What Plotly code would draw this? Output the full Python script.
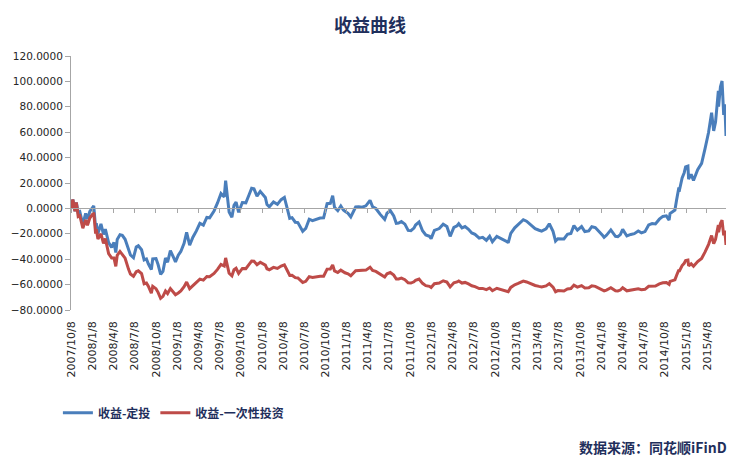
import plotly.graph_objects as go

# ---- data ----
dates = [
    "2007-10-08", "2007-10-16", "2007-10-25", "2007-10-31", "2007-11-08", "2007-11-15", "2007-11-28",
    "2007-12-10", "2007-12-18", "2007-12-28",
    "2008-01-14", "2008-01-22", "2008-01-25", "2008-02-01", "2008-02-14", "2008-02-25", "2008-03-04",
    "2008-03-18", "2008-03-31", "2008-04-10", "2008-04-18", "2008-04-24", "2008-05-06", "2008-05-16",
    "2008-05-28", "2008-06-12", "2008-06-20", "2008-07-03", "2008-07-15", "2008-07-24", "2008-08-07",
    "2008-08-18", "2008-08-28", "2008-09-05", "2008-09-18", "2008-09-24", "2008-10-08", "2008-10-17",
    "2008-10-28", "2008-11-07", "2008-11-18", "2008-11-27", "2008-12-09", "2008-12-23", "2008-12-31",
    "2009-01-12", "2009-01-23", "2009-02-06", "2009-02-17", "2009-03-02", "2009-03-16", "2009-03-31",
    "2009-04-15", "2009-04-30", "2009-05-15", "2009-05-27", "2009-06-15", "2009-06-30", "2009-07-15",
    "2009-07-29", "2009-08-04", "2009-08-12", "2009-08-19", "2009-08-31", "2009-09-09", "2009-09-18",
    "2009-09-29", "2009-10-15", "2009-10-30", "2009-11-13", "2009-11-24", "2009-12-04", "2009-12-17",
    "2009-12-31",
    "2010-01-11", "2010-01-22", "2010-01-29", "2010-02-08", "2010-02-26", "2010-03-15", "2010-03-31",
    "2010-04-14", "2010-04-27", "2010-05-07", "2010-05-17", "2010-05-31", "2010-06-11", "2010-06-30",
    "2010-07-02", "2010-07-15", "2010-07-30", "2010-08-13", "2010-08-31", "2010-09-15", "2010-09-30",
    "2010-10-15", "2010-10-29", "2010-11-08", "2010-11-16", "2010-11-30", "2010-12-13", "2010-12-24",
    "2010-12-31",
    "2011-01-13", "2011-01-25", "2011-02-15", "2011-02-28", "2011-03-15", "2011-03-31", "2011-04-18",
    "2011-04-29", "2011-05-13", "2011-05-31", "2011-06-20", "2011-06-30", "2011-07-14", "2011-07-29",
    "2011-08-09", "2011-08-19", "2011-08-31", "2011-09-15", "2011-09-29", "2011-10-11", "2011-10-24",
    "2011-10-31", "2011-11-15", "2011-11-30", "2011-12-14", "2011-12-30",
    "2012-01-06", "2012-01-20", "2012-02-10", "2012-02-27", "2012-03-14", "2012-03-28", "2012-04-13",
    "2012-04-27", "2012-05-04", "2012-05-18", "2012-05-31", "2012-06-15", "2012-06-29", "2012-07-13",
    "2012-07-31", "2012-08-15", "2012-08-31", "2012-09-14", "2012-09-26", "2012-10-15", "2012-10-31",
    "2012-11-15", "2012-11-30", "2012-12-03", "2012-12-14", "2012-12-31",
    "2013-01-15", "2013-02-06", "2013-02-20", "2013-02-28", "2013-03-15", "2013-03-29", "2013-04-15",
    "2013-04-26", "2013-05-15", "2013-05-29", "2013-06-14", "2013-06-25", "2013-07-05", "2013-07-19",
    "2013-07-31", "2013-08-15", "2013-08-30", "2013-09-12", "2013-09-27", "2013-10-15", "2013-10-29",
    "2013-11-15", "2013-11-28", "2013-12-13", "2013-12-31",
    "2014-01-14", "2014-01-20", "2014-01-30", "2014-02-18", "2014-03-10", "2014-03-20", "2014-03-31",
    "2014-04-10", "2014-04-28", "2014-05-15", "2014-05-30", "2014-06-16", "2014-06-30", "2014-07-15",
    "2014-07-31", "2014-08-15", "2014-08-29", "2014-09-15", "2014-09-30", "2014-10-15", "2014-10-27",
    "2014-10-31", "2014-11-14", "2014-11-21", "2014-11-28", "2014-12-08", "2014-12-09", "2014-12-22",
    "2014-12-31",
    "2015-01-06", "2015-01-16", "2015-01-19", "2015-01-30", "2015-02-09", "2015-02-27", "2015-03-16",
    "2015-03-31", "2015-04-15", "2015-04-28", "2015-05-07", "2015-05-15", "2015-05-27", "2015-05-28",
    "2015-06-05", "2015-06-12", "2015-06-19", "2015-06-24", "2015-06-26", "2015-06-29",
]

# 收益-定投 (blue)
dca_return = [
    0.0, 7.0, -2.3, 4.6, -3.2, -2.6, -12.7,
    -4.0, -8.3, -2.4,
    2.0, -15.4, -11.7, -19.9, -12.2, -20.5, -16.4,
    -26.9, -30.7, -26.8, -34.8, -24.4, -20.7, -21.2,
    -24.3, -31.8, -36.7, -38.9, -30.4, -29.4, -32.6,
    -40.6, -39.8, -43.6, -48.1, -39.7, -39.5, -44.2,
    -51.9, -49.5, -39.0, -42.4, -33.2, -38.8, -42.1,
    -36.8, -33.9, -27.5, -18.9, -28.9, -22.7, -17.7,
    -11.7, -13.2, -7.1, -7.4, -2.0, 4.3, 11.7,
    9.1, 21.9, 8.5, -2.8, -7.0, 2.5, 5.0,
    -3.1, 4.6, 4.4, 10.7, 15.9, 15.4, 9.7,
    13.4,
    10.7, 8.6, 3.0, 1.3, 5.1, 3.2, 6.9,
    8.6, -0.5, -7.8, -7.3, -10.9, -11.2, -17.1,
    -18.0, -15.8, -8.5, -9.6, -8.2, -7.6, -7.4,
    3.7, 4.0, 10.0, 0.8, -1.8, 1.9, -1.3,
    -2.2,
    -3.8, -6.7, 1.1, 1.3, 0.9, 2.0, 6.3,
    1.3, -0.1, -4.5, -8.7, -3.8, -1.7, -5.9,
    -11.7, -11.5, -10.3, -12.4, -17.3, -17.5, -15.5,
    -13.1, -10.7, -17.6, -20.9, -22.0,
    -23.8, -17.3, -15.9, -12.4, -14.2, -22.0, -15.0,
    -13.7, -12.1, -15.3, -14.3, -16.4, -19.3, -20.4,
    -23.4, -22.8, -25.1, -21.9, -26.3, -22.0, -23.5,
    -24.5, -26.4, -27.2, -19.7, -15.3,
    -12.8, -8.9, -10.1, -11.3, -14.3, -15.9, -17.2,
    -17.9, -16.1, -12.1, -18.0, -25.7, -23.9, -24.1,
    -24.0, -20.4, -19.8, -13.5, -17.1, -14.3, -18.2,
    -17.7, -14.4, -15.1, -18.2,
    -21.4, -22.8, -21.2, -16.9, -22.0, -22.2, -20.6,
    -16.5, -21.7, -20.5, -19.9, -17.8, -19.3, -18.3,
    -13.0, -11.9, -12.2, -8.5, -6.3, -5.9, -9.2,
    -4.0, -1.7, -1.3, 6.4, 16.4, 13.1, 23.9,
    28.1,
    32.7, 33.3, 23.1, 26.8, 22.0, 30.4, 35.5,
    47.3, 59.9, 75.3, 61.0, 68.0, 92.6, 80.1,
    95.8, 100.3, 73.6, 81.9, 62.6, 57.1,
]

# 收益-一次性投资 (red)
lump_return = [
    0.0, 7.0, -2.3, 4.6, -6.4, -5.8, -15.6,
    -9.1, -13.2, -7.6,
    -3.4, -19.9, -16.4, -24.1, -20.0, -27.6, -23.8,
    -35.6, -39.0, -39.0, -45.6, -37.0, -33.9, -36.7,
    -39.2, -48.0, -51.7, -53.4, -49.8, -49.1, -51.3,
    -59.3, -58.7, -61.3, -66.7, -61.3, -63.2, -66.1,
    -70.8, -69.3, -65.0, -67.0, -63.1, -66.2, -68.0,
    -66.6, -65.0, -61.7, -58.0, -63.2, -60.8, -58.3,
    -55.7, -56.5, -53.6, -53.8, -51.2, -48.0, -44.1,
    -45.4, -39.0, -45.4, -51.1, -53.1, -48.3, -47.1,
    -51.2, -47.3, -47.4, -44.0, -41.4, -41.6, -44.3,
    -42.4,
    -43.6, -44.7, -47.5, -48.3, -46.4, -47.3, -45.4,
    -44.4, -49.1, -52.8, -52.6, -54.5, -54.8, -57.9,
    -58.3, -57.4, -53.7, -54.3, -53.7, -53.4, -53.4,
    -47.8, -47.7, -44.5, -49.2, -50.5, -48.6, -50.2,
    -50.7,
    -51.5, -53.0, -49.1, -49.0, -49.1, -48.6, -46.3,
    -48.9, -49.6, -51.8, -54.0, -51.5, -50.5, -52.5,
    -55.6, -55.5, -54.9, -56.1, -58.6, -58.8, -57.8,
    -56.6, -55.6, -59.0, -60.8, -61.4,
    -62.3, -59.3, -58.7, -57.0, -58.0, -61.8, -58.6,
    -57.9, -57.1, -58.8, -58.3, -59.5, -60.9, -61.6,
    -63.1, -63.0, -64.0, -62.7, -64.8, -62.9, -63.7,
    -64.3, -65.2, -65.6, -62.2, -60.1,
    -59.1, -57.2, -57.9, -58.5, -59.9, -60.7, -61.4,
    -61.8, -61.0, -59.2, -62.0, -65.6, -64.7, -65.0,
    -65.0, -63.4, -63.1, -60.4, -62.0, -60.8, -62.6,
    -62.5, -61.0, -61.4, -62.8,
    -64.4, -65.0, -64.3, -62.5, -64.9, -65.0, -64.3,
    -62.5, -64.9, -64.4, -64.2, -63.3, -64.0, -63.7,
    -61.3, -60.9, -61.1, -59.4, -58.5, -58.3, -59.8,
    -57.5, -56.5, -56.3, -52.9, -48.3, -49.8, -45.0,
    -43.2,
    -41.1, -40.7, -45.3, -43.6, -45.6, -41.8, -39.4,
    -34.2, -28.3, -21.4, -27.8, -24.3, -13.2, -18.8,
    -11.8, -9.2, -21.3, -17.6, -26.3, -28.8,
]

tick_dates = [
    "2007-10-08", "2008-01-08", "2008-04-08", "2008-07-08", "2008-10-08", "2009-01-08", "2009-04-08",
    "2009-07-08", "2009-10-08", "2010-01-08", "2010-04-08", "2010-07-08", "2010-10-08", "2011-01-08",
    "2011-04-08", "2011-07-08", "2011-10-08", "2012-01-08", "2012-04-08", "2012-07-08", "2012-10-08",
    "2013-01-08", "2013-04-08", "2013-07-08", "2013-10-08", "2014-01-08", "2014-04-08", "2014-07-08",
    "2014-10-08", "2015-01-08", "2015-04-08",
]
tick_labels = [
    "2007/10/8", "2008/1/8", "2008/4/8", "2008/7/8", "2008/10/8", "2009/1/8", "2009/4/8",
    "2009/7/8", "2009/10/8", "2010/1/8", "2010/4/8", "2010/7/8", "2010/10/8", "2011/1/8",
    "2011/4/8", "2011/7/8", "2011/10/8", "2012/1/8", "2012/4/8", "2012/7/8", "2012/10/8",
    "2013/1/8", "2013/4/8", "2013/7/8", "2013/10/8", "2014/1/8", "2014/4/8", "2014/7/8",
    "2014/10/8", "2015/1/8", "2015/4/8",
]
y_ticks = [-80, -60, -40, -20, 0, 20, 40, 60, 80, 100, 120]
x_range = ["2007-10-08", "2015-06-29"]

series_names = ["收益-定投", "收益-一次性投资"]
title_text = "收益曲线"
source_text = "数据来源：同花顺iFinD"

# ---- styling ----
# The page body keeps the browser's default 8px margin, so the figure is
# sized 8px smaller than the window and all positions are offset by 8px.
FIG_W, FIG_H = 732, 456
BLUE = "#4A7EBB"
RED = "#BE4B48"
NAVY = "#1F2F5C"
AXIS_GRAY = "#A6A6A6"
X_TICK_FONT = dict(family="DejaVu Sans, Verdana, sans-serif", size=11, color="#262626")
Y_TICK_FONT = dict(family="DejaVu Sans, Verdana, sans-serif", size=10.5, color="#262626")
CJK = "Noto Sans CJK SC, sans-serif"

fig = go.Figure()
fig.add_trace(go.Scatter(x=dates, y=dca_return, name=series_names[0], mode="lines",
                         line=dict(color=BLUE, width=3)))
fig.add_trace(go.Scatter(x=dates, y=lump_return, name=series_names[1], mode="lines",
                         line=dict(color=RED, width=3)))
# empty helper trace so the zero-line axis (x2) exists
fig.add_trace(go.Scatter(x=[], y=[], xaxis="x2", showlegend=False, hoverinfo="skip"))

fig.update_layout(
    width=FIG_W, height=FIG_H,
    margin=dict(l=63, r=14, t=48, b=154),
    paper_bgcolor="white", plot_bgcolor="white",
    xaxis=dict(type="date", range=x_range, tickvals=tick_dates, ticktext=tick_labels,
               tickangle=-90, showline=False, showgrid=False, zeroline=False, ticks="",
               ticklabelstandoff=8, tickfont=X_TICK_FONT, automargin=False),
    xaxis2=dict(type="date", range=x_range, overlaying="x", anchor="free", position=0.4,
                tickvals=tick_dates, showticklabels=False, ticks="outside", ticklen=4,
                tickcolor=AXIS_GRAY, tickwidth=1, showline=True, linecolor=AXIS_GRAY,
                linewidth=1, showgrid=False, zeroline=False, automargin=False),
    yaxis=dict(range=[-80, 120], tickvals=y_ticks, tickformat=".4f", showgrid=False,
               zeroline=False, showline=True, linecolor=AXIS_GRAY, linewidth=1,
               ticks="outside", ticklen=5, tickcolor=AXIS_GRAY, tickfont=Y_TICK_FONT,
               automargin=False),
    legend=dict(orientation="h", x=-0.02, y=-0.405, xanchor="left", yanchor="middle",
                font=dict(family=CJK, size=12, color=NAVY, weight="bold"),
                itemwidth=30, bgcolor="rgba(0,0,0,0)"),
    annotations=[
        dict(text=title_text, xref="paper", yref="paper",
             x=(362 - 63) / 655, y=(302 - 16) / 254, xanchor="center", yanchor="middle",
             showarrow=False, font=dict(family=CJK, size=18, color=NAVY, weight="bold")),
        dict(text=source_text, xref="paper", yref="paper", x=(569 - 63) / 655,
             y=(302 - 439) / 254, xanchor="left", yanchor="middle", showarrow=False,
             font=dict(family=CJK, size=14, color=NAVY, weight="bold")),
    ],
)

fig.write_html("out.html")
